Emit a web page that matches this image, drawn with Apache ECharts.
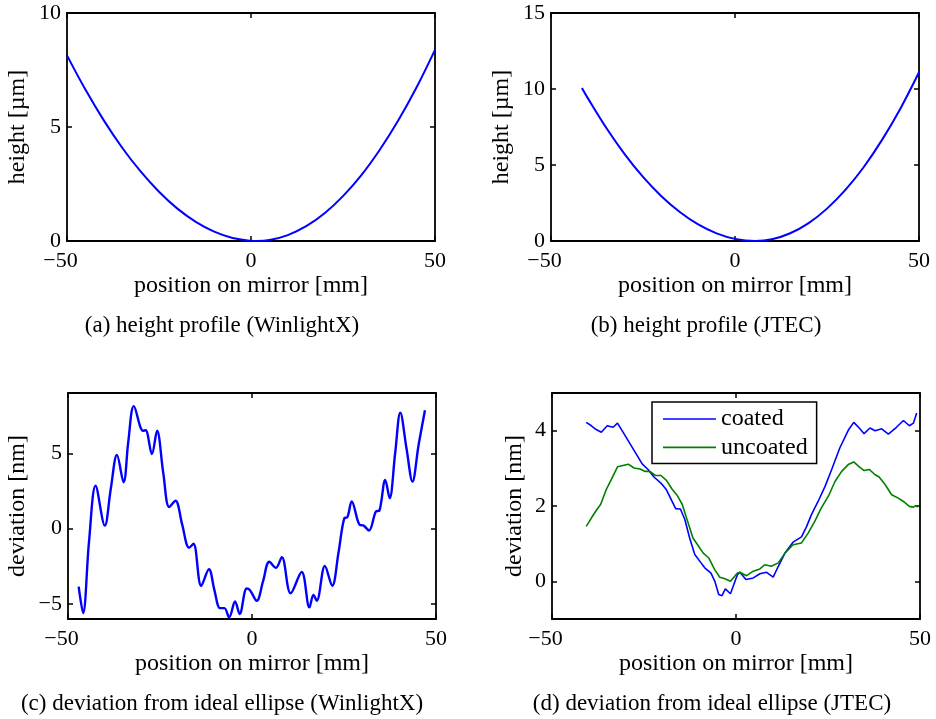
<!DOCTYPE html>
<html>
<head>
<meta charset="utf-8">
<script src="https://cdn.jsdelivr.net/npm/echarts@6/dist/echarts.min.js"></script>
<style>html,body{margin:0;padding:0;background:#fff}#c{width:936px;height:719px}</style>
</head>
<body>
<div id="c"></div>
<script>
// (a) height profile WinlightX  [position mm, height µm]
const heightWinlight = [[-50,8.14],[-45,6.64],[-40,5.29],[-35,4.09],[-30,3.05],[-25,2.16],[-20,1.42],[-15,0.84],[-10,0.41],[-5,0.13],[0,0.01],[1.5,0],[5,0.04],[10,0.26],[15,0.65],[20,1.22],[25,1.97],[30,2.89],[35,4.0],[40,5.28],[45,6.74],[50,8.38]];
// (b) height profile JTEC
const heightJtec = [[-41.6,10.07],[-40,9.40],[-35,7.45],[-30,5.72],[-25,4.22],[-20,2.95],[-15,1.91],[-10,1.09],[-5,0.50],[0,0.14],[5.5,0],[10,0.11],[15,0.51],[20,1.18],[25,2.13],[30,3.36],[35,4.87],[40,6.67],[45,8.74],[50,11.1]];
// (c) deviation WinlightX [mm, nm]
const devWinlight = [[-47.1,-3.85],[-45.9,-5.6],[-44.3,-0.9],[-42.5,2.84],[-40.0,0.2],[-38.4,2.6],[-36.7,4.88],[-34.9,3.08],[-33.6,5.8],[-32.1,8.13],[-29.6,6.49],[-28.9,6.53],[-27.2,4.95],[-25.8,6.49],[-24.1,3.67],[-22.5,1.43],[-20.8,1.85],[-19.0,0.3],[-17.1,-1.27],[-15.9,-1.01],[-13.8,-3.8],[-11.7,-2.7],[-10.2,-4.1],[-8.7,-5.28],[-7.5,-5.28],[-6.2,-5.89],[-4.6,-4.84],[-3.35,-5.67],[-1.45,-3.98],[-0.55,-4.09],[1.28,-4.79],[3.0,-3.5],[4.7,-2.2],[6.5,-2.6],[8.1,-1.89],[10.5,-4.29],[13.5,-2.88],[15.6,-5.23],[16.7,-4.4],[17.6,-4.79],[19.8,-2.48],[21.8,-3.8],[23.5,-1.6],[25.1,0.7],[25.9,0.75],[27.1,1.8],[29.2,0.26],[30.3,0.2],[31.8,-0.13],[33.7,1.14],[34.6,1.19],[36.2,3.23],[37.4,2.02],[38.9,5.0],[40.3,7.7],[42.0,5.3],[43.6,3.12],[45.3,5.6],[47.0,7.85]];
// (d) deviation JTEC coated / uncoated
const devCoated = [[-40.7,4.22],[-39.3,4.13],[-38.0,4.03],[-36.6,3.96],[-35.0,4.13],[-33.4,4.09],[-32.2,4.2],[-30.7,3.96],[-28.9,3.67],[-27.3,3.41],[-25.5,3.12],[-23.9,2.97],[-22.3,2.77],[-20.4,2.61],[-18.9,2.43],[-17.6,2.17],[-16.4,1.93],[-15.1,1.92],[-13.9,1.64],[-12.6,1.15],[-11.2,0.71],[-9.8,0.53],[-8.5,0.36],[-6.8,0.22],[-5.75,0.0],[-4.7,-0.35],[-3.8,-0.38],[-2.9,-0.2],[-1.5,-0.33],[0.4,0.18],[1.05,0.24],[2.7,0.05],[4.7,0.09],[6.5,0.2],[8.3,0.24],[10.1,0.11],[11.5,0.4],[13.3,0.75],[15.5,1.04],[17.8,1.18],[19.2,1.46],[20.5,1.77],[22.3,2.12],[24.2,2.52],[26.0,2.97],[28.2,3.54],[30.5,4.01],[32.0,4.22],[33.5,4.07],[34.8,3.92],[36.4,4.07],[37.8,4.0],[39.6,4.05],[41.4,3.91],[43.6,4.09],[45.5,4.27],[47.1,4.13],[48.2,4.2],[49.1,4.47]];
const devUncoated = [[-40.7,1.46],[-39.3,1.68],[-38.0,1.88],[-36.8,2.04],[-35.2,2.45],[-33.9,2.7],[-32.2,3.04],[-31.0,3.07],[-29.3,3.11],[-27.7,3.01],[-26.1,2.98],[-24.8,2.92],[-23.4,2.92],[-21.9,2.81],[-20.4,2.81],[-18.9,2.68],[-17.4,2.45],[-15.9,2.27],[-14.6,2.04],[-13.2,1.61],[-11.7,1.15],[-10.3,0.95],[-8.9,0.75],[-7.4,0.62],[-5.8,0.31],[-4.4,0.11],[-3.0,0.07],[-1.5,0.0],[0.4,0.22],[1.05,0.24],[2.85,0.15],[4.7,0.27],[6.5,0.33],[7.8,0.44],[9.6,0.4],[11.5,0.49],[13.3,0.75],[15.5,0.97],[17.8,1.02],[19.6,1.28],[21.4,1.59],[23.2,1.95],[25.1,2.26],[26.9,2.65],[28.7,2.92],[30.5,3.1],[32.0,3.17],[33.5,3.04],[34.8,2.94],[36.2,2.97],[37.8,2.83],[38.9,2.77],[40.5,2.57],[42.3,2.3],[44.1,2.21],[45.5,2.12],[47.1,1.99],[48.2,1.97],[48.9,2.01],[49.5,1.97]];

const xTicks = [-50, 0, 50];
const yTicksA = [0, 5, 10];
const yTicksB = [0, 5, 10, 15];
const yTicksC = [-5, 0, 5];
const yTicksD = [0, 2, 4];

const xName = 'position on mirror [mm]';
const captions = ['(a) height profile (WinlightX)', '(b) height profile (JTEC)', '(c) deviation from ideal ellipse (WinlightX)', '(d) deviation from ideal ellipse (JTEC)'];
const yNames = ['height [µm]', 'height [µm]', 'deviation [nm]', 'deviation [nm]'];
const legendNames = ['coated', 'uncoated'];

const FONT = 'Liberation Serif';
const lineCol = '#000';
function fmt(v){ return v < 0 ? '{m|\u2212' + Math.abs(v) + '}' : String(v); }

const grids = [
  {left:67, top:13, width:368, height:228},
  {left:551, top:13, width:368, height:228},
  {left:68, top:393, width:368, height:226},
  {left:552, top:393, width:368, height:226}
];
const yRanges = [[0,10,yTicksA],[0,15,yTicksB],[-6,9,yTicksC],[-1,5,yTicksD]];
const yGaps = [37, 37, 38, 25];

const xAxis = [], yAxis = [];
grids.forEach((g, gi) => {
  const common = {type:'value', gridIndex:gi, min:-50, max:50, splitLine:{show:false},
    axisLine:{onZero:false, lineStyle:{color:lineCol, width:1.8}},
    axisTick:{inside:true, length:5, customValues:xTicks, lineStyle:{color:lineCol, width:1.5}}};
  xAxis.push(Object.assign({}, common, {position:'bottom',
    axisLabel:{customValues:xTicks, margin:9, color:'#000', fontFamily:FONT, fontSize:22, formatter:fmt,
      rich:{m:{fontFamily:FONT, fontSize:22, color:'#000', padding:[0,13,0,0]}}},
    name:xName, nameLocation:'middle', nameGap:33, nameTextStyle:{color:'#000', fontFamily:FONT, fontSize:24}}));
  xAxis.push(Object.assign({}, common, {position:'top', axisLabel:{show:false}}));
  const [mn, mx, tk] = yRanges[gi];
  const cy = {type:'value', gridIndex:gi, min:mn, max:mx, splitLine:{show:false},
    axisLine:{onZero:false, lineStyle:{color:lineCol, width:1.8}},
    axisTick:{inside:true, length:5, customValues:tk, lineStyle:{color:lineCol, width:1.5}}};
  yAxis.push(Object.assign({}, cy, {position:'left',
    axisLabel:{customValues:tk, margin:6, color:'#000', fontFamily:FONT, fontSize:22, formatter:v => v < 0 ? '\u2212' + Math.abs(v) : String(v)},
    name:yNames[gi], nameLocation:'middle', nameGap:yGaps[gi], nameTextStyle:{color:'#000', fontFamily:FONT, fontSize:24}}));
  yAxis.push(Object.assign({}, cy, {position:'right', axisLabel:{show:false}}));
});

function ser(name, data, gi, color, width, smooth){
  return {name, type:'line', data, xAxisIndex:2*gi, yAxisIndex:2*gi, showSymbol:false, symbol:'none',
    smooth, lineStyle:{color, width}, itemStyle:{color}, silent:true, animation:false};
}

const captionPos = [[222,326],[706,326],[222,704],[712,704]];
const graphic = captions.map((t, i) => ({type:'text', x:captionPos[i][0], y:captionPos[i][1],
  style:{text:t, fill:'#000', font:'23px "' + FONT + '"', textAlign:'center', textVerticalAlign:'middle'}}));

const lineIcon = 'path://M0,0 L530,0 L530,16 L0,16 Z';

const chart = echarts.init(document.getElementById('c'), null, {renderer:'canvas'});
chart.setOption({
  animation:false,
  backgroundColor:'#fff',
  textStyle:{fontFamily:FONT},
  grid:grids,
  xAxis, yAxis,
  legend:{data:legendNames.map(n => ({name:n, icon:lineIcon})), orient:'vertical', left:652, top:402, padding:[5,9,4,11],
    itemWidth:53, itemHeight:20, itemGap:4.4, selectedMode:false,
    borderColor:'#000', borderWidth:1.5, backgroundColor:'#fff',
    textStyle:{fontFamily:FONT, fontSize:24, color:'#000'}},
  series:[
    ser('a', heightWinlight, 0, '#0000ff', 2, 0.4),
    ser('b', heightJtec, 1, '#0000ff', 2, 0.4),
    ser('c', devWinlight, 2, '#0000ff', 2.4, 0.35),
    ser(legendNames[0], devCoated, 3, '#0000ff', 1.6, false),
    ser(legendNames[1], devUncoated, 3, '#008000', 1.6, false)
  ],
  graphic
});
</script>
</body>
</html>
